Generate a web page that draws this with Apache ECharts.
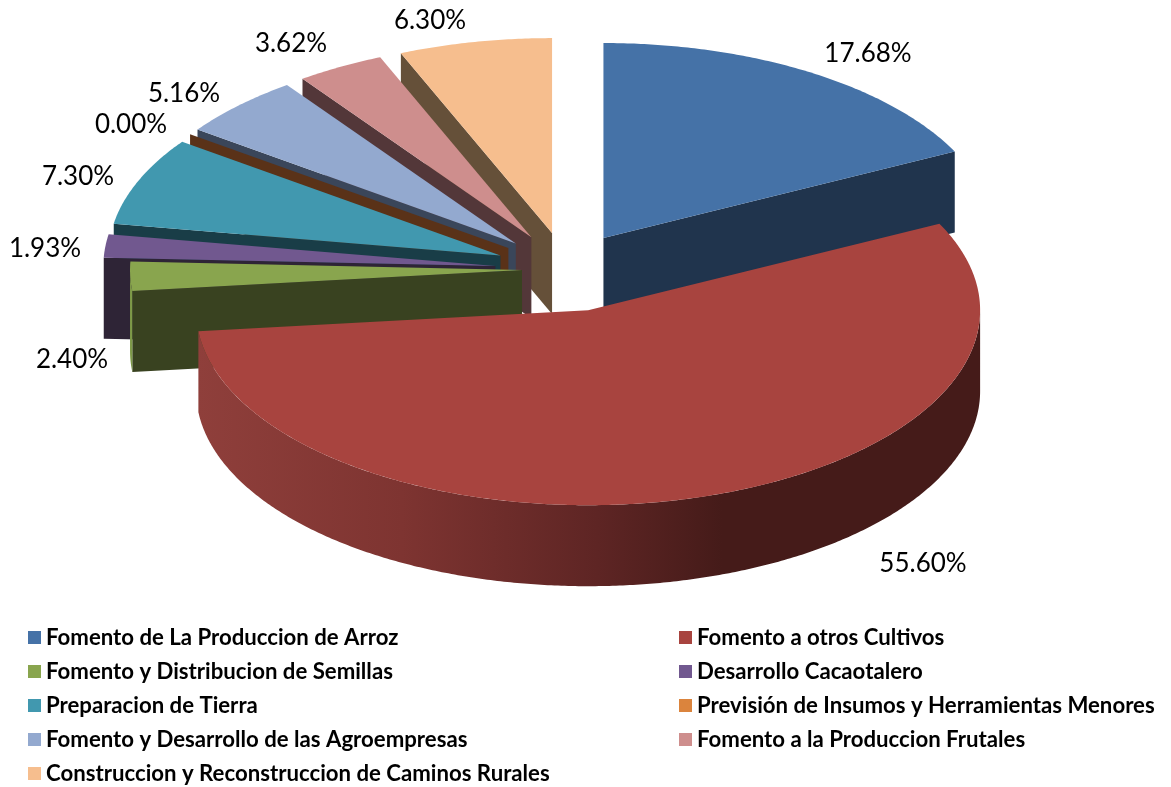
<!DOCTYPE html>
<html>
<head>
<meta charset="utf-8">
<title>Distribucion</title>
<style>
html, body { margin: 0; padding: 0; background: #fff; }
#pieContainer { width: 1171px; height: 787px; }
</style>
<script src="https://cdn.jsdelivr.net/npm/echarts@6/dist/echarts.min.js"></script>
</head>
<body>
<div id="pieContainer"></div>
<script>
var categoryName = ['Fomento de La Produccion de Arroz', 'Fomento a otros Cultivos', 'Fomento y Distribucion de Semillas',
    'Desarrollo Cacaotalero', 'Preparacion de Tierra', 'Previsión de Insumos y Herramientas Menores',
    'Fomento y Desarrollo de las Agroempresas', 'Fomento a la Produccion Frutales', 'Construccion y Reconstruccion de Caminos Rurales'];
var shareData = [17.68, 55.60, 2.40, 1.93, 7.30, 0.00, 5.16, 3.62, 6.30];

// estilo de cada porcion
var topColor = ['#4572A7', '#A8443F', '#89A54E', '#71588F', '#4198AF', '#DB843D', '#93A9CF', '#CE8E8D', '#F6BE8E'];
var sideColor = ['#20344D', '#7A3230', '#394220', '#2E2436', '#193D47', '#5A3218', '#3A465A', '#533739', '#655039'];
var explodeDist = [71, 79, 44, 71, 71, 71, 71, 71, 71];
var explodeTilt = [0.53, 0.53, 0, 0.53, 0.53, 0.53, 0.53, 0.53, 0.53];
var paintOrder = [8, 9, 7, 6, 5, 4, 3, 2, 1];
var labelPos = [[868, 54], [923, 564], [72, 360], [45, 249], [78, 177], [131, 125], [184, 94], [291, 44], [430, 21]];

var centerX = 566, centerY = 270, radiusX = 392, radiusY = 195, depth = 81;
var sliceFont = 'Lato';

var total = 0;
shareData.forEach(function (v) { total += v; });

function arcPoints(tip, from, to, drop) {
    var pts = [];
    var steps = Math.max(1, Math.ceil(Math.abs(to - from) / 0.5));
    for (var k = 0; k <= steps; k++) {
        var a = (from + (to - from) * k / steps) * Math.PI / 180;
        pts.push([tip[0] + radiusX * Math.sin(a), tip[1] - radiusY * Math.cos(a) + drop]);
    }
    return pts;
}

function cutFace(tip, angle) {
    var outer = arcPoints(tip, angle, angle, 0)[0];
    return [tip, outer, [outer[0], outer[1] + depth], [tip[0], tip[1] + depth]];
}

function polygon(points, fill) {
    return { type: 'polygon', shape: { points: points }, style: { fill: fill }, silent: true };
}

var rimGradient = new echarts.graphic.LinearGradient(198, 0, 981, 0, [
    { offset: 0, color: '#8F3F3B' },
    { offset: 0.26, color: '#7E3431' },
    { offset: 0.51, color: '#5E2524' },
    { offset: 0.67, color: '#451B19' },
    { offset: 1, color: '#451B19' }
], true);

function sliceSeries(index) {
    var start = 0;
    for (var i = 0; i < index; i++) {
        start += shareData[i] / total * 360;
    }
    return {
        type: 'custom',
        name: categoryName[index],
        coordinateSystem: 'none',
        z: 2 + paintOrder[index],
        itemStyle: { color: topColor[index] },
        silent: true,
        animation: false,
        data: [[shareData[index]]],
        renderItem: function (params, api) {
            var sweep = api.value(0) / total * 360;
            var end = start + sweep;
            var mid = (start + sweep / 2) * Math.PI / 180;
            var dist = explodeDist[index];
            var tip = [centerX + dist * Math.sin(mid), centerY - dist * explodeTilt[index] * Math.cos(mid)];
            var children = [];

            // cara de corte visible
            if (start >= 180 && start < 360) {
                children.push(polygon(cutFace(tip, start), sideColor[index]));
            }
            if (end > 0 && end < 180) {
                children.push(polygon(cutFace(tip, end), sideColor[index]));
            }
            // borde exterior, solo la mitad delantera
            var rimFrom = Math.max(start, 90), rimTo = Math.min(end, 270);
            if (rimTo > rimFrom) {
                var rim = arcPoints(tip, rimFrom, rimTo, 0).concat(arcPoints(tip, rimTo, rimFrom, depth));
                children.push(polygon(rim, index === 1 ? rimGradient : '#7E9A48'));
            }
            if (sweep > 0) {
                children.push(polygon([tip].concat(arcPoints(tip, start, end, 0)), topColor[index]));
            }
            children.push({
                type: 'text',
                x: labelPos[index][0],
                y: labelPos[index][1],
                silent: true,
                style: {
                    text: api.value(0).toFixed(2) + '%',
                    fontFamily: sliceFont,
                    fontSize: 26,
                    fill: '#000',
                    align: 'center',
                    verticalAlign: 'middle'
                }
            });
            return { type: 'group', children: children };
        }
    };
}

function legendColumn(names, left) {
    return {
        orient: 'vertical',
        left: left,
        top: 625,
        padding: 0,
        itemWidth: 13,
        itemHeight: 13,
        itemGap: 9,
        icon: 'rect',
        selectedMode: false,
        data: names,
        textStyle: { fontFamily: sliceFont, fontWeight: 'bold', fontSize: 22.2, color: '#000', lineHeight: 25 }
    };
}

var pieChart = echarts.init(document.getElementById('pieContainer'), null, { renderer: 'canvas' });
pieChart.setOption({
    backgroundColor: '#fff',
    animation: false,
    legend: [
        legendColumn(categoryName.filter(function (n, i) { return i % 2 === 0; }), 28),
        legendColumn(categoryName.filter(function (n, i) { return i % 2 === 1; }), 679)
    ],
    series: categoryName.map(function (n, i) { return sliceSeries(i); })
});
</script>
</body>
</html>
